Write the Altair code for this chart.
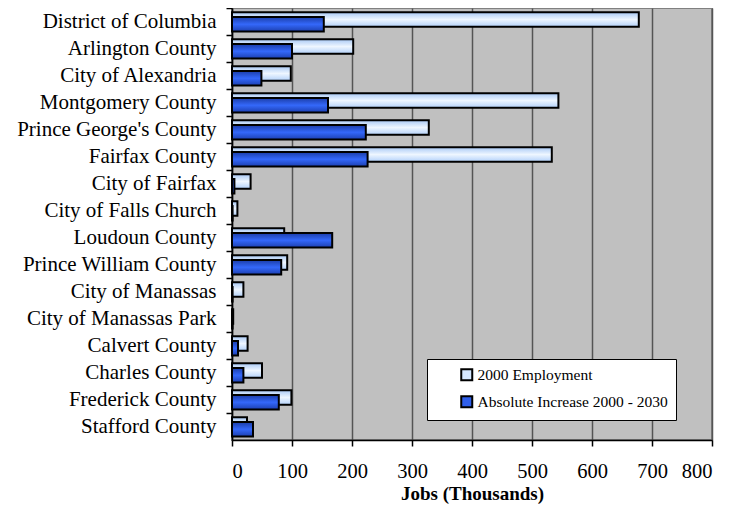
import altair as alt
import pandas as pd

counties = [
    "District of Columbia", "Arlington County", "City of Alexandria",
    "Montgomery County", "Prince George's County", "Fairfax County",
    "City of Fairfax", "City of Falls Church", "Loudoun County",
    "Prince William County", "City of Manassas", "City of Manassas Park",
    "Calvert County", "Charles County", "Frederick County", "Stafford County",
]
employment_2000 = [678, 202, 98, 544, 328, 533, 31, 9, 87, 92, 19, 2, 26, 50, 99, 25]
increase_2000_2030 = [153, 100, 49, 160, 223, 226, 4, 1, 167, 82, 1, 1, 10, 19, 78, 35]
series_names = ["2000 Employment", "Absolute Increase 2000 - 2030"]
x_ticks = [0, 100, 200, 300, 400, 500, 600, 700, 800]

rows = []
for c, a, b in zip(counties, employment_2000, increase_2000_2030):
    rows.append({"county": c, "series": series_names[0], "value": a})
    rows.append({"county": c, "series": series_names[1], "value": b})
df = pd.DataFrame(rows)

FONT = "Liberation Serif"

light_grad = alt.Gradient(
    gradient="linear", x1=0, x2=0, y1=0, y2=1,
    stops=[alt.GradientStop(color="#A9C9F5", offset=0),
           alt.GradientStop(color="#EEF6FF", offset=0.5),
           alt.GradientStop(color="#B3D1FA", offset=1)])
dark_grad = alt.Gradient(
    gradient="linear", x1=0, x2=0, y1=0, y2=1,
    stops=[alt.GradientStop(color="#1B3DA8", offset=0),
           alt.GradientStop(color="#3468FA", offset=0.5),
           alt.GradientStop(color="#1C3FB0", offset=1)])

y_enc = alt.Y("county:N", sort=counties, title=None,
              scale=alt.Scale(paddingInner=0, paddingOuter=0),
              axis=alt.Axis(bandPosition=0, labelFont=FONT, labelFontSize=21,
                            labelColor="black", tickColor="black", tickSize=6,
                            domainColor="black", domainWidth=1.5, tickWidth=1.5,
                            labelPadding=10, labelLimit=400, grid=False))
x_enc = alt.X("value:Q", title="Jobs (Thousands)",
              scale=alt.Scale(domain=[0, 800], nice=False),
              axis=alt.Axis(values=x_ticks, labelFont=FONT, labelFontSize=20.5,
                            labelColor="black", tickColor="black", tickSize=6,
                            tickWidth=1.5, domainColor="black", domainWidth=1.5,
                            gridColor="#555555", gridWidth=1.5, labelPadding=15,
                            titleFont=FONT, titleFontSize=19, titleFontWeight="bold",
                            titleColor="black", titlePadding=3))

base = alt.Chart(df)

light = base.transform_filter(alt.datum.series == series_names[0]).mark_bar(
    fill=light_grad, stroke="black", strokeWidth=2, size=14.5, yOffset=-2
).encode(x=x_enc, y=y_enc)

dark = base.transform_filter(alt.datum.series == series_names[1]).mark_bar(
    fill=dark_grad, stroke="black", strokeWidth=2, size=14.5, yOffset=2.8
).encode(x=x_enc, y=y_enc)

legend_layer = base.mark_bar(opacity=0).encode(
    x=x_enc, y=y_enc,
    color=alt.Color("series:N", sort=series_names,
                    scale=alt.Scale(domain=series_names, range=["#D6E8FF", "#2F5FEB"]),
                    legend=alt.Legend(
                        title=None, orient="none", legendX=195, legendY=351,
                        direction="vertical", symbolType="square", symbolSize=121,
                        symbolOpacity=1, symbolStrokeColor="black", symbolStrokeWidth=2,
                        labelFont=FONT, labelFontSize=15.5, labelColor="black",
                        labelOffset=3, rowPadding=7, padding=8, symbolOffset=24,
                        fillColor="white", strokeColor="black", labelLimit=400)),
)

chart = alt.layer(light, dark, legend_layer).properties(
    width=480, height=432,
    autosize=alt.AutoSizeParams(type="none"),
    padding={"left": 224, "top": 0, "right": 9, "bottom": 66},
).configure(
    background="white"
).configure_view(
    fill="#C0C0C0", stroke="#808080", strokeWidth=2
)

chart.save("out.html", embed_options={"renderer": "svg", "actions": False})
